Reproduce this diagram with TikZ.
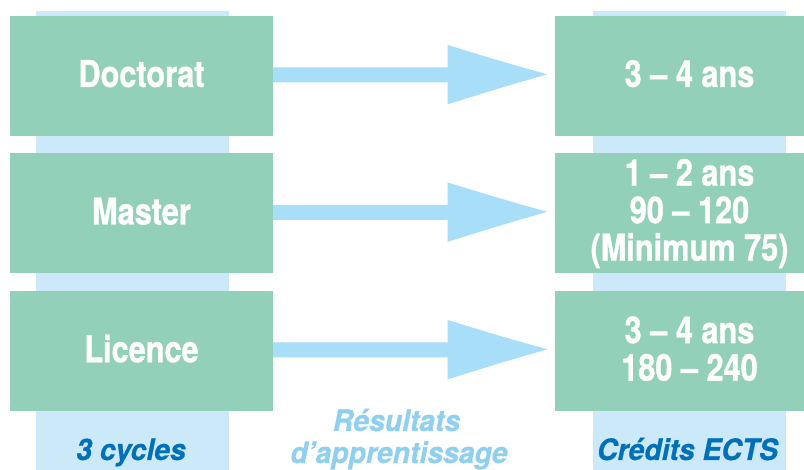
\documentclass[tikz,border=0pt]{standalone}
\usepackage{fontspec}
\setmainfont{TeX Gyre Heros}
\newfontfamily\boxfont{TeX Gyre Heros}[FakeStretch=0.83, BoldFeatures={FakeBold=0.9}]
\newfontfamily\labfont{TeX Gyre Heros}[FakeStretch=0.96, BoldItalicFeatures={FakeBold=0.6}]
\usetikzlibrary{calc}
\definecolor{boxgreen}{HTML}{92D0B9}
\definecolor{colblue}{HTML}{CCE9F9}
\definecolor{arrowblue}{HTML}{A8DEF7}
\definecolor{darklab}{HTML}{0070B8}
\definecolor{lightlab}{HTML}{8FCFF0}
\tikzset{
  column/.style={fill=colblue},
  levelbox/.style={fill=boxgreen, draw=none, inner sep=0pt, minimum width=263pt, minimum height=120pt,
    text=white, align=center, font=\boxfont\fontsize{37}{37.5}\selectfont\bfseries},
  lift/.style={text depth=5pt},
  credbox/.style={levelbox, minimum width=269pt},
  bottomlab/.style={anchor=base, inner sep=0pt, font=\labfont\fontsize{29.5}{32}\selectfont\bfseries\itshape},
  bigarrow/.style={fill=arrowblue}
}
\begin{document}
\begin{tikzpicture}[x=1pt,y=-1pt]
\clip (0,0) rectangle (804,470);
\fill[white] (0,0) rectangle (804,470);
% background columns
\fill[column] (36,11) rectangle (229,470);
\fill[column] (593,11) rectangle (786,470);
% left boxes
\node[levelbox, lift] (doc) at (141.5,76) {Doctorat};
\node[levelbox, lift] (mas) at (141.5,213.5) {Master};
\node[levelbox, lift] (lic) at (141.5,351) {Licence};
% right boxes (extend beyond the right edge)
\node[credbox, lift] (c1) at (689.5,76) {3 – 4 ans};
\node[credbox] (c2) at (689.5,213.5) {1 – 2 ans\\90 – 120\\(Minimum 75)};
\node[credbox, lift] (c3) at (689.5,351) {3 – 4 ans\\180 – 240};
% arrows
\foreach \a/\b in {doc/c1, mas/c2, lic/c3}{
  \fill[bigarrow]
    ($(\a.east)+(0,-8.7)$) -- ($(\a.east)+(174.5,-8.7)$) -- ($(\a.east)+(174.5,-31)$)
    .. controls ($(\a.east)+(230,-14)$) .. ($(\b.west)+(-7.5,-1.7)$)
    .. controls ($(\a.east)+(230,11)$) .. ($(\a.east)+(174.5,28.3)$)
    -- ($(\a.east)+(174.5,6.3)$) -- ($(\a.east)+(0,6.3)$) -- cycle;
}
% bottom labels
\node[bottomlab, text=darklab] (l1) at (131,460) {3 cycles};
\node[bottomlab, text=lightlab] (l2a) at (396.5,431) {Résultats};
\node[bottomlab, text=lightlab] (l2b) at (399,463) {d’apprentissage};
\node[bottomlab, text=darklab] (l3) at (687.5,460) {Crédits ECTS};
\end{tikzpicture}
\end{document}
